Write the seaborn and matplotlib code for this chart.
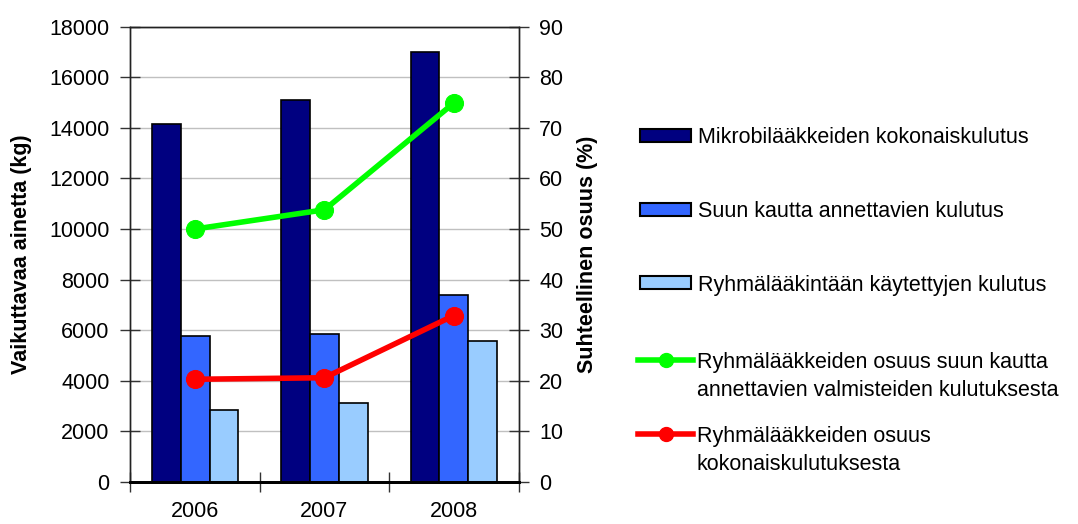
import matplotlib
matplotlib.use("Agg")
import matplotlib.pyplot as plt
import seaborn as sns
import pandas as pd
import numpy as np
from matplotlib.patches import Patch
from matplotlib.lines import Line2D

# data
years = ["2006", "2007", "2008"]
total_use = [14150, 15100, 17000]
oral_use = [5770, 5840, 7400]
group_use = [2840, 3130, 5570]
share_of_oral = [50.0, 53.8, 74.9]
share_of_total = [20.3, 20.6, 32.9]

bar_names = ["Mikrobilääkkeiden kokonaiskulutus",
             "Suun kautta annettavien kulutus",
             "Ryhmälääkintään käytettyjen kulutus"]
line_names = ["Ryhmälääkkeiden osuus suun kautta\nannettavien valmisteiden kulutuksesta",
              "Ryhmälääkkeiden osuus\nkokonaiskulutuksesta"]
bar_colors = ["#000080", "#3366FF", "#99CCFF"]
line_colors = ["#00FF00", "#FF0000"]

df = pd.DataFrame({
    "Vuosi": years * 3,
    "kg": total_use + oral_use + group_use,
    "Sarja": [bar_names[0]] * 3 + [bar_names[1]] * 3 + [bar_names[2]] * 3,
})

plt.rcParams["font.family"] = ["Liberation Sans", "DejaVu Sans"]

fig = plt.figure(figsize=(10.78, 5.24), dpi=100)
ax = fig.add_axes([0.121, 0.0802, 0.360, 0.869])

sns.barplot(data=df, x="Vuosi", y="kg", hue="Sarja", palette=bar_colors,
            width=0.67, saturation=1, edgecolor="black", linewidth=1.2,
            legend=False, ax=ax)

ax2 = ax.twinx()
xpos = np.arange(len(years))
for vals, col in zip([share_of_oral, share_of_total], line_colors):
    sns.lineplot(x=xpos, y=vals, color=col, linewidth=4, marker="o",
                 markersize=13, markeredgecolor=col, ax=ax2)

# left axis
ax.set_ylim(0, 18000)
ax.set_yticks(range(0, 18001, 2000))
ax.set_axisbelow(True)
ax.yaxis.grid(True, color="#C0C0C0", linewidth=1)
ax.set_ylabel("Vaikuttavaa ainetta (kg)", fontsize=15.5, fontweight="bold")
ax.yaxis.set_label_coords(-0.254, 0.5)
ax.set_xlabel("")

# right axis
ax2.set_ylim(0, 90)
ax2.set_yticks(range(0, 91, 10))
ax2.set_ylabel("Suhteellinen osuus (%)", fontsize=15.5, fontweight="bold")
ax2.yaxis.set_label_coords(1.151, 0.5)

# x axis: labels at categories, ticks between them
ax.set_xlim(-0.5, len(years) - 0.5)
ax.set_xticks(xpos)
ax.set_xticklabels(years)
ax.set_xticks(np.arange(-0.5, len(years), 1.0), minor=True)
ax.tick_params(axis="x", which="major", length=0, pad=14, labelsize=15.5)
ax.tick_params(axis="x", which="minor", direction="inout", length=14,
               width=1, color="#333333")
ax.tick_params(axis="y", direction="inout", length=14, width=1,
               color="#333333", pad=8, labelsize=15.5)
ax2.tick_params(axis="y", direction="inout", length=14, width=1,
                color="#333333", pad=8, labelsize=15.5)

for a in (ax, ax2):
    for side, sp in a.spines.items():
        sp.set_color("#222222")
        sp.set_linewidth(1)
    a.spines["bottom"].set_linewidth(2)
    a.spines["bottom"].set_color("black")

# legends
bar_handles = [Patch(facecolor=c, edgecolor="black", linewidth=1.5) for c in bar_colors]
leg1 = fig.legend(bar_handles, bar_names, loc="upper left",
                  bbox_to_anchor=(0.594, 0.7576), frameon=False, fontsize=15.5,
                  handlelength=2.35, handleheight=0.56, handletextpad=0.32,
                  labelspacing=2.45, borderpad=0, borderaxespad=0)
line_handles = [Line2D([], [], color=c, linewidth=4, marker="o", markersize=10)
                for c in line_colors]
leg2 = fig.legend(line_handles, line_names, loc="upper left",
                  bbox_to_anchor=(0.592, 0.328), frameon=False, fontsize=15.5,
                  handlelength=2.55, handletextpad=0.18,
                  labelspacing=1.2, borderpad=0, borderaxespad=0)
for t in leg2.get_texts():
    t.set_linespacing(1.4)
# put the marker next to the first line of each two-line label
for item in leg2._legend_handle_box.get_children()[0].get_children():
    item.align = "top"

fig.savefig("out.png", dpi=100)
